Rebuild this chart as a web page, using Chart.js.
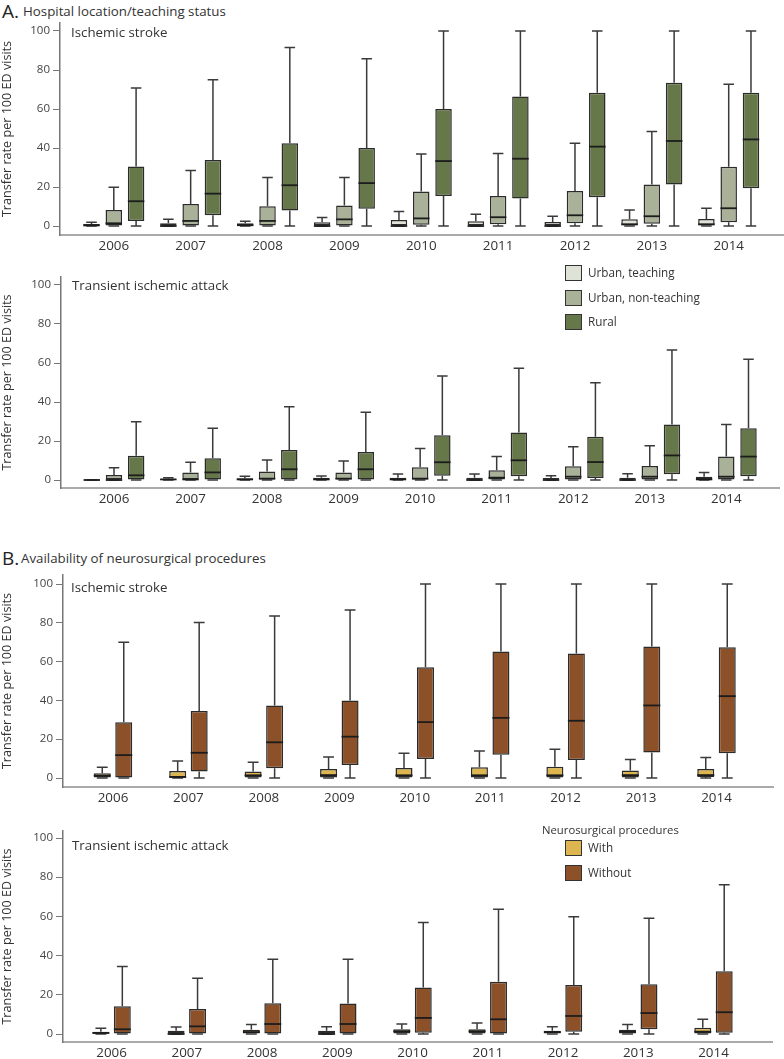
<!DOCTYPE html>
<html>
<head>
<meta charset="utf-8">
<title>Transfer rates</title>
<script src="https://cdn.jsdelivr.net/npm/chart.js@4/dist/chart.umd.min.js"></script>
<style>
  html, body { margin: 0; padding: 0; background: #fff; overflow: hidden; }
  #page { position: relative; width: 784px; height: 1059px; overflow: hidden;
          font-family: 'Open Sans', sans-serif; color: #333; }
  .lbl { position: absolute; white-space: nowrap; line-height: 1; transform: translateY(-50%); }
  .key { position: absolute; box-sizing: border-box; width: 17px; height: 16px; border: 1.5px solid #333; }
  canvas { position: absolute; left: 0; }
</style>
</head>
<body>
<div id="page">
  <div class="lbl" style="left:2px;top:11px;font-size:19px;color:#222">A.</div>
  <div class="lbl" style="left:23px;top:12px;font-size:13.3px">Hospital location/teaching status</div>
  <div class="lbl" style="left:2px;top:558px;font-size:19px;color:#222">B.</div>
  <div class="lbl" style="left:21px;top:559px;font-size:13.3px">Availability of neurosurgical procedures</div>

  <canvas id="chartAIs"></canvas>
  <canvas id="chartATia"></canvas>
  <canvas id="chartBIs"></canvas>
  <canvas id="chartBTia"></canvas>

  <div class="lbl" style="left:71px;top:33px;font-size:13.3px">Ischemic stroke</div>
  <div class="lbl" style="left:72px;top:286px;font-size:13.3px">Transient ischemic attack</div>
  <div class="lbl" style="left:71px;top:588px;font-size:13.3px">Ischemic stroke</div>
  <div class="lbl" style="left:72px;top:846px;font-size:13.3px">Transient ischemic attack</div>

  <div id="legendA"></div>
  <div id="legendB"></div>
</div>

<script>
// ── Data ─────────────────────────────────────────────────────────────────────
const years  = ['2006', '2007', '2008', '2009', '2010', '2011', '2012', '2013', '2014'];
const yTicks = [0, 20, 40, 60, 80, 100];

// each entry: [min, q1, median, q3, max] per year
const isUrbanTeaching = [
  [0, 0, 0.3, 1.0, 1.9], [0, 0, 0, 1.4, 3.4], [0, 0, 0.4, 1.4, 2.4],
  [0, 0, 0, 1.9, 4.3],   [0, 0, 0, 3.1, 7.4], [0, 0, 0, 2.4, 6.0],
  [0, 0, 0, 2.1, 5.0],   [0, 0, 0.9, 3.4, 8.2], [0, 0, 0.9, 3.6, 9.1]
];
const isUrbanNonTeaching = [
  [0, 0, 1.4, 8.2, 19.9],    [0, 0, 2.6, 11.3, 28.5],   [0, 0, 2.6, 10.1, 24.9],
  [0, 0.3, 3.4, 10.5, 24.9], [0, 0.7, 3.9, 17.7, 36.9], [0, 0.9, 4.5, 15.4, 37.2],
  [0, 1.4, 5.5, 18.0, 42.4], [0, 1.2, 5.0, 21.3, 48.4], [0, 1.9, 9.1, 30.4, 72.7]
];
const isRural = [
  [0, 2.6, 12.7, 30.5, 70.8],  [0, 5.5, 16.6, 33.8, 75.0],  [0, 7.9, 20.9, 42.5, 91.6],
  [0, 8.9, 22.0, 40.0, 85.8],  [0, 15.4, 33.3, 60.0, 100],  [0, 14.1, 34.5, 66.4, 100],
  [0, 14.8, 40.7, 68.3, 100],  [0, 21.3, 43.6, 73.4, 100],  [0, 19.4, 44.4, 68.3, 100]
];

const tiaUrbanTeaching = [
  [0, 0, 0, 0, 0],         [0, 0, 0.3, 0.7, 1.2], [0, 0, 0.3, 0.9, 1.9],
  [0, 0, 0.3, 1.2, 2.1],   [0, 0, 0.3, 1.2, 3.1], [0, 0, 0, 1.2, 3.1],
  [0, 0, 0, 1.0, 2.2],     [0, 0, 0, 1.2, 3.2],   [0, 0, 0.3, 1.7, 3.9]
];
const tiaUrbanNonTeaching = [
  [0, 0, 0, 2.6, 6.3],   [0, 0, 0.3, 3.8, 9.1], [0, 0, 0.7, 4.4, 10.3],
  [0, 0, 0.7, 3.9, 9.7], [0, 0, 0.7, 6.5, 16.1], [0, 0, 1.2, 5.0, 12.0],
  [0, 0, 1.7, 7.0, 17.1], [0, 0, 1.7, 7.2, 17.6], [0, 0, 1.7, 12.1, 28.5]
];
const tiaRural = [
  [0, 0, 2.4, 12.5, 29.9],   [0, 0, 3.9, 11.1, 26.5],   [0, 0, 5.5, 15.4, 37.6],
  [0, 0, 5.5, 14.4, 34.7],   [0, 2.2, 9.1, 22.9, 53.3], [0, 1.9, 10.1, 24.3, 57.3],
  [0, 1.0, 9.2, 22.2, 49.9], [0, 2.9, 12.6, 28.5, 66.7], [0, 1.9, 12.0, 26.5, 61.9]
];

const isWithNeuro = [
  [0, 0, 1.2, 2.4, 5.5],  [0, 0, 0.5, 3.6, 8.7],  [0, 0, 1.4, 3.3, 8.1],
  [0, 0, 1.5, 4.6, 10.8], [0, 0, 1.4, 5.1, 12.7], [0, 0, 1.4, 5.5, 13.9],
  [0, 0, 1.4, 5.8, 14.8], [0, 0, 1.5, 3.9, 9.6],  [0, 0.5, 1.5, 4.6, 10.6]
];
const isWithoutNeuro = [
  [0, 0, 11.8, 28.8, 70.0],   [0, 3.4, 13.0, 34.5, 80.1], [0, 5.0, 18.4, 37.4, 83.5],
  [0, 6.7, 21.3, 40.0, 86.6], [0, 9.8, 28.8, 57.1, 100],  [0, 12.0, 31.0, 65.2, 100],
  [0, 9.3, 29.5, 64.2, 100],  [0, 13.2, 37.4, 67.8, 100], [0, 12.7, 42.2, 67.4, 100]
];

const tiaWithNeuro = [
  [0, 0, 0.5, 1.2, 2.9], [0, 0, 0, 1.7, 3.6],   [0, 0, 1.0, 2.2, 4.9],
  [0, 0, 0, 1.7, 3.7],   [0, 0, 1.4, 2.4, 5.1], [0, 0, 1.4, 2.4, 5.6],
  [0, 0, 1.0, 1.7, 3.7], [0, 0, 1.2, 2.2, 4.8], [0, 0, 1.2, 3.2, 7.5]
];
const tiaWithoutNeuro = [
  [0, 0, 2.4, 14.1, 34.4],   [0, 0, 3.9, 12.8, 28.4],   [0, 0, 5.1, 15.7, 38.2],
  [0, 0, 5.1, 15.5, 38.2],   [0, 0.7, 8.2, 23.7, 56.9], [0, 0.3, 7.5, 26.7, 63.7],
  [0, 1.2, 9.2, 25.0, 59.8], [0, 2.4, 10.7, 25.4, 59.1], [0, 0.7, 11.1, 32.0, 76.1]
];

const namesA  = ['Urban, teaching', 'Urban, non-teaching', 'Rural'];
const colorsA = ['#dfe2d6', '#a9b199', '#66784a'];
const namesB  = ['With', 'Without'];
const colorsB = ['#ddb650', '#8c5128'];

// ── Layout of each panel (page pixels) ──────────────────────────────────────
const layoutAIs  = { top: 20,  axisTop: 23,  axisBottom: 235,  y100: 31,  y0: 226,  left: 60, right: 783, c0: 113.8, c8: 728.7 };
const layoutATia = { top: 274, axisTop: 277, axisBottom: 488,  y100: 285, y0: 480,  left: 61, right: 779, c0: 114.0, c8: 726.3 };
const layoutBIs  = { top: 572, axisTop: 575, axisBottom: 787,  y100: 584, y0: 778,  left: 63, right: 773, c0: 113.0, c8: 716.5 };
const layoutBTia = { top: 828, axisTop: 831, axisBottom: 1042, y100: 838, y0: 1034, left: 63, right: 772, c0: 111.6, c8: 713.5 };

const X_AXIS_H = 24;
const FONT = "'Open Sans', sans-serif";

// ── Whiskers + median drawn on top of the floating bars ─────────────────────
const boxWhiskers = {
  id: 'boxWhiskers',
  afterDatasetsDraw(chart) {
    const ctx = chart.ctx;
    const y = chart.scales.y;
    chart.data.datasets.forEach((ds, di) => {
      const meta = chart.getDatasetMeta(di);
      meta.data.forEach((bar, i) => {
        const [lo, q1, med, q3, hi] = ds.stats[i];
        const x    = bar.x;
        const half = bar.width / 2;
        const cap  = bar.width * 0.32;
        const pLo = y.getPixelForValue(lo),  pQ1 = y.getPixelForValue(q1);
        const pMd = y.getPixelForValue(med), pQ3 = y.getPixelForValue(q3);
        const pHi = y.getPixelForValue(hi);
        ctx.save();
        ctx.strokeStyle = '#3a3a3a';
        ctx.lineWidth = 1.5;
        ctx.beginPath();
        ctx.moveTo(x, pQ3); ctx.lineTo(x, pHi);
        ctx.moveTo(x - cap, pHi); ctx.lineTo(x + cap, pHi);
        ctx.moveTo(x, pQ1); ctx.lineTo(x, pLo);
        ctx.moveTo(x - cap, pLo); ctx.lineTo(x + cap, pLo);
        ctx.stroke();
        ctx.strokeStyle = '#1c1c1c';
        ctx.lineWidth = 1.8;
        ctx.beginPath();
        ctx.moveTo(x - half, pMd); ctx.lineTo(x + half, pMd);
        ctx.stroke();
        ctx.restore();
      });
    });
  }
};

// ── Build one panel ─────────────────────────────────────────────────────────
function makePanel(canvasId, lay, series, names, colors, catPct, barPct) {
  const canvas = document.getElementById(canvasId);
  const height = lay.axisBottom - lay.top + X_AXIS_H;
  canvas.width  = 784;
  canvas.height = height;
  canvas.style.top    = lay.top + 'px';
  canvas.style.width  = '784px';
  canvas.style.height = height + 'px';

  const ppu  = (lay.y0 - lay.y100) / 100;
  const yMax = 100 + (lay.y100 - lay.axisTop) / ppu;
  const yMin = -(lay.axisBottom - lay.y0) / ppu;
  const step = (lay.c8 - lay.c0) / 8;
  const xMin = (lay.left - lay.c0) / step;
  const xMax = 8 + (lay.right - lay.c8) / step;

  const datasets = series.map((s, k) => ({
    label: names[k],
    stats: s,
    data: s.map((v, i) => ({ x: i, y: [v[1], v[3]] })),
    backgroundColor: colors[k],
    borderColor: '#2b2b2b',
    borderWidth: 1.5,
    borderSkipped: false,
    categoryPercentage: catPct,
    barPercentage: barPct
  }));

  return new Chart(canvas, {
    type: 'bar',
    data: { datasets },
    options: {
      responsive: false,
      animation: false,
      events: [],
      layout: { padding: { top: lay.axisTop - lay.top, right: 784 - lay.right, bottom: 0, left: 0 } },
      plugins: { legend: { display: false }, tooltip: { enabled: false } },
      scales: {
        x: {
          type: 'linear',
          offset: false,
          min: xMin,
          max: xMax,
          afterBuildTicks: sc => { sc.ticks = years.map((_, i) => ({ value: i })); },
          afterFit: sc => { sc.height = X_AXIS_H; sc.paddingLeft = 0; sc.paddingRight = 0; },
          grid: { display: false, drawTicks: false, offset: false },
          border: { display: true, color: '#aaaaaa', width: 2 },
          ticks: {
            autoSkip: false, maxRotation: 0, padding: 3,
            color: '#333', font: { family: FONT, size: 13.4 },
            callback: v => years[v]
          }
        },
        y: {
          min: yMin,
          max: yMax,
          afterBuildTicks: sc => { sc.ticks = yTicks.map(v => ({ value: v })); },
          afterFit: sc => { sc.width = lay.left; sc.paddingTop = 0; sc.paddingBottom = 0; },
          grid: { drawOnChartArea: false, drawTicks: true, tickLength: 7, color: '#777' },
          border: { display: true, color: '#777', width: 1.5 },
          ticks: { padding: 3, color: '#444', font: { family: FONT, size: 11.5 } },
          title: {
            display: true,
            text: 'Transfer rate per 100 ED visits',
            color: '#333',
            font: { family: FONT, size: 12.6 },
            padding: { top: 0, bottom: 0 }
          }
        }
      }
    },
    plugins: [boxWhiskers]
  });
}

// ── Legends (HTML) ──────────────────────────────────────────────────────────
function makeLegend(id, names, colors, left, firstY, gap, title) {
  const el = document.getElementById(id);
  let html = '';
  if (title) {
    html += '<div class="lbl" style="left:' + title.x + 'px;top:' + title.y + 'px;font-size:11.3px">' + title.text + '</div>';
  }
  names.forEach((n, k) => {
    const y = firstY + k * gap;
    html += '<div class="key" style="left:' + left + 'px;top:' + y + 'px;background:' + colors[k] + '"></div>';
    html += '<div class="lbl" style="left:' + (left + 23) + 'px;top:' + (y + 8) + 'px;font-size:11.7px">' + n + '</div>';
  });
  el.innerHTML = html;
}

makePanel('chartAIs',  layoutAIs,  [isUrbanTeaching, isUrbanNonTeaching, isRural],    namesA, colorsA, 0.87, 0.74);
makePanel('chartATia', layoutATia, [tiaUrbanTeaching, tiaUrbanNonTeaching, tiaRural], namesA, colorsA, 0.87, 0.74);
makePanel('chartBIs',  layoutBIs,  [isWithNeuro, isWithoutNeuro],   namesB, colorsB, 0.57, 0.79);
makePanel('chartBTia', layoutBTia, [tiaWithNeuro, tiaWithoutNeuro], namesB, colorsB, 0.57, 0.79);

makeLegend('legendA', namesA, colorsA, 565, 265, 24.5);
makeLegend('legendB', namesB, colorsB, 565, 840, 25, { text: 'Neurosurgical procedures', x: 542, y: 830 });
</script>
</body>
</html>
